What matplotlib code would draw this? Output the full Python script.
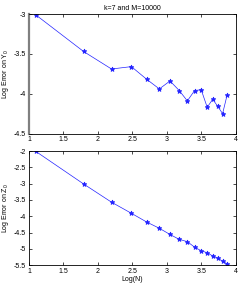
import matplotlib
matplotlib.use('Agg')
import matplotlib.pyplot as plt

# log(N) values
log_n = [1.0986, 1.7918, 2.1972, 2.4849, 2.7081, 2.8904, 3.0445, 3.1781,
         3.2958, 3.4012, 3.4965, 3.5835, 3.6636, 3.7377, 3.8067, 3.8712]

# log error on Y0 and Z0
err_y0 = [-3.01, -3.47, -3.69, -3.66, -3.82, -3.94, -3.84, -3.96,
          -4.09, -3.96, -3.95, -4.17, -4.07, -4.16, -4.25, -4.02]
err_z0 = [-2.01, -3.01, -3.57, -3.91, -4.18, -4.37, -4.56, -4.71,
          -4.78, -4.95, -5.06, -5.12, -5.22, -5.29, -5.38, -5.46]

plt.rcParams['font.family'] = ['Liberation Sans', 'DejaVu Sans']
plt.rcParams['font.size'] = 5
plt.rcParams['mathtext.fontset'] = 'custom'
plt.rcParams['mathtext.rm'] = 'Liberation Sans'
plt.rcParams['mathtext.it'] = 'Liberation Sans'

fig = plt.figure(figsize=(2.45, 2.86), dpi=100)
ax1 = fig.add_axes([0.118, 0.533, 0.845, 0.418])
ax2 = fig.add_axes([0.118, 0.073, 0.845, 0.399])

for ax, err in ((ax1, err_y0), (ax2, err_z0)):
    ax.plot(log_n, err, color='#2222ff', lw=0.5, marker='*', ms=3.5,
            markeredgewidth=0.6)
    ax.set_xlim(1, 4)
    ax.set_xticks([1, 1.5, 2, 2.5, 3, 3.5, 4])
    ax.set_xticklabels(['1', '1.5', '2', '2.5', '3', '3.5', '4'])
    ax.tick_params(direction='in', top=True, right=True, length=2,
                   width=0.5, pad=2, labelsize=5)
    for s in ax.spines.values():
        s.set_linewidth(0.6)

# the top panel's left edge is drawn thick and grey in the original
ax1.spines['left'].set_linewidth(1.6)
ax1.spines['left'].set_color('#808080')

ax1.set_ylim(-4.5, -3)
ax1.set_yticks([-4.5, -4, -3.5, -3])
ax1.set_yticklabels(['-4.5', '-4', '-3.5', '-3'])
ax1.set_ylabel('Log Error on Y$_0$', labelpad=2)
ax1.set_title('k=7 and M=10000', fontsize=5, pad=3)

ax2.set_ylim(-5.5, -2)
ax2.set_yticks([-5.5, -5, -4.5, -4, -3.5, -3, -2.5, -2])
ax2.set_yticklabels(['-5.5', '-5', '-4.5', '-4', '-3.5', '-3', '-2.5', '-2'])
ax2.set_ylabel('Log Error on Z$_0$', labelpad=2)
ax2.set_xlabel('Log(N)', labelpad=1)

fig.savefig('out.png', dpi=100)
